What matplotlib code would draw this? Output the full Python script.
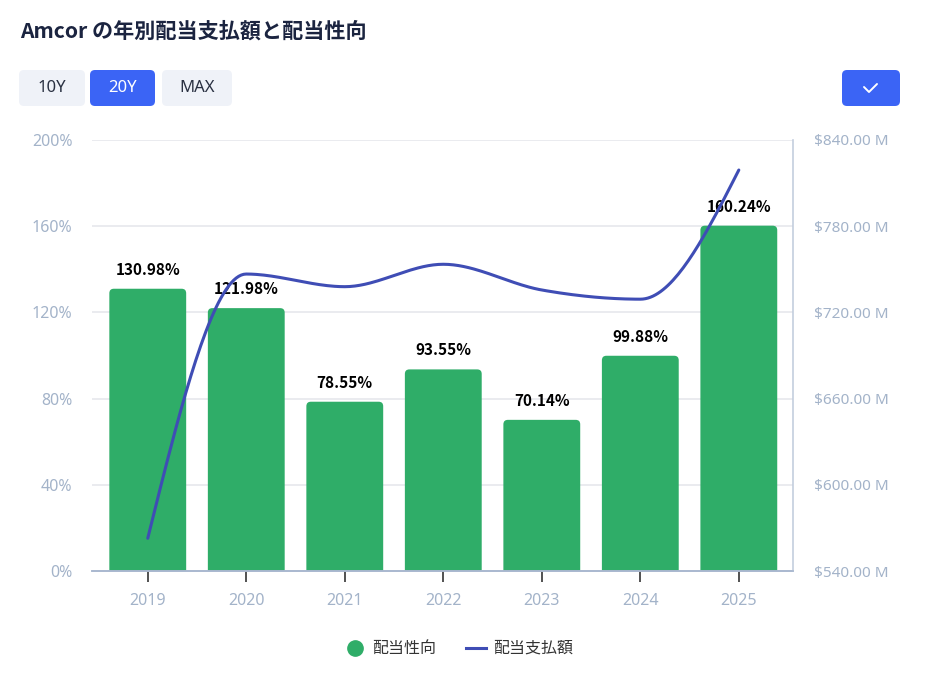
import matplotlib
matplotlib.use('Agg')
import matplotlib.pyplot as plt
from matplotlib.patches import FancyBboxPatch
import numpy as np

plt.rcParams['font.family'] = ['Noto Sans', 'Noto Sans CJK JP', 'DejaVu Sans']

# データ
years = ['2019', '2020', '2021', '2022', '2023', '2024', '2025']
payout_ratio = [130.98, 121.98, 78.55, 93.55, 70.14, 99.88, 160.24]      # 配当性向 (%)
dividends_paid = [562.8, 746.7, 737.9, 753.5, 735.6, 729.2, 819.1]      # 配当支払額 ($M)
left_ticks = [0, 40, 80, 120, 160, 200]
right_ticks = [540, 600, 660, 720, 780, 840]
buttons = ['10Y', '20Y', 'MAX']

GREEN = '#2fad68'
BLUE_LINE = '#3f4db5'
BTN_BLUE = '#3b64f5'
LABEL = '#a3b3c9'
GRID = '#e6e8ec'
CJK = ['Noto Sans CJK JP', 'DejaVu Sans']


def monotone_x(xs, ys, n=40):
    """d3.curveMonotoneX 相当の補間（描画用）"""
    xs = np.asarray(xs, float)
    ys = np.asarray(ys, float)
    h = np.diff(xs)
    s = np.diff(ys) / h
    m = np.zeros_like(ys)
    for i in range(1, len(ys) - 1):
        p = (s[i - 1] * h[i] + s[i] * h[i - 1]) / (h[i - 1] + h[i])
        m[i] = (np.sign(s[i - 1]) + np.sign(s[i])) * min(abs(s[i - 1]), abs(s[i]), 0.5 * abs(p))
    m[0] = (3 * s[0] - m[1]) / 2
    m[-1] = (3 * s[-1] - m[-2]) / 2
    px, py = [], []
    for i in range(len(xs) - 1):
        t = np.linspace(0, 1, n)
        h00 = 2 * t**3 - 3 * t**2 + 1
        h10 = t**3 - 2 * t**2 + t
        h01 = -2 * t**3 + 3 * t**2
        h11 = t**3 - t**2
        px.extend(xs[i] + t * h[i])
        py.extend(h00 * ys[i] + h10 * h[i] * m[i] + h01 * ys[i + 1] + h11 * h[i] * m[i + 1])
    return np.array(px), np.array(py)


W, H = 944, 683
fig = plt.figure(figsize=(W / 100, H / 100), dpi=100)

# プロット領域
x0, x1, yb, yt = 92, 793, 571, 140
ax = fig.add_axes([x0 / W, 1 - yb / H, (x1 - x0) / W, (yb - yt) / H])
ax2 = ax.twinx()

x = np.arange(len(years))
xlim = (-0.566, 6.55)
ax.set_xlim(*xlim)
ax.set_ylim(0, 200)
ax2.set_ylim(540, 840)

for v in left_ticks[1:]:
    ax.axhline(v, color=GRID, lw=1.2, zorder=0)

# 棒（上側の角丸）
px_per_x = (x1 - x0) / (xlim[1] - xlim[0])
px_per_y = (yb - yt) / 200
aspect = px_per_x / px_per_y
bw = 0.78
rad = 4.5 / px_per_x
for xi, v in zip(x, payout_ratio):
    box = FancyBboxPatch((xi - bw / 2, -6), bw, v + 6,
                         boxstyle=f"round,pad=0,rounding_size={rad}",
                         mutation_aspect=aspect,
                         fc=GREEN, ec='none', zorder=2, clip_on=True)
    ax.add_patch(box)
    ax.annotate(f'{v:.2f}%', (xi, v), xytext=(0, 8), textcoords='offset points',
                ha='center', va='bottom', fontsize=11, fontweight='bold',
                color='black', zorder=5, family=CJK)

lx, ly = monotone_x(x, dividends_paid)
ax2.plot(lx, ly, color=BLUE_LINE, lw=2.2, zorder=4, solid_capstyle='round')
ax2.patch.set_visible(False)

# 軸
ax.set_xticks(x)
ax.set_xticklabels(years)
ax.set_yticks(left_ticks)
ax.set_yticklabels([f'{v}%' for v in left_ticks])
ax2.set_yticks(right_ticks)
ax2.set_yticklabels([f'${v:.2f} M' for v in right_ticks])

ax.tick_params(axis='x', colors='#333333', length=8, width=1.2, pad=8, labelsize=11.5, labelcolor=LABEL)
ax.tick_params(axis='y', length=0, pad=14, labelsize=11.5, labelcolor=LABEL)
ax2.tick_params(axis='y', length=0, pad=15, labelsize=11, labelcolor=LABEL)

for a in (ax, ax2):
    for sp in ('top', 'left'):
        a.spines[sp].set_visible(False)
    a.spines['bottom'].set_color('#a9b8cf')
    a.spines['bottom'].set_linewidth(1.2)
    a.spines['right'].set_color('#c3cede')
    a.spines['right'].set_linewidth(1.2)
ax.spines['right'].set_visible(False)

# UI オーバーレイ（ピクセル座標）
ui = fig.add_axes([0, 0, 1, 1], zorder=10)
ui.set_xlim(0, W)
ui.set_ylim(H, 0)
ui.axis('off')
ui.patch.set_visible(False)

ui.text(20, 31, 'Amcor の年別配当支払額と配当性向', fontsize=15.2, fontweight='bold',
        color='#1b2440', va='center', ha='left', family=CJK)

btn_x = [(19, 85), (90, 155), (162, 232)]
for (bx0, bx1), label in zip(btn_x, buttons):
    active = label == '20Y'
    ui.add_patch(FancyBboxPatch((bx0, 70), bx1 - bx0, 36,
                                boxstyle="round,pad=0,rounding_size=5",
                                fc=BTN_BLUE if active else '#eff2f8', ec='none'))
    ui.text((bx0 + bx1) / 2, 88.5, label, ha='center', va='center', fontsize=12,
            color='white' if active else '#2a3142')

ui.add_patch(FancyBboxPatch((842, 70), 58, 36, boxstyle="round,pad=0,rounding_size=5",
                            fc=BTN_BLUE, ec='none'))
ui.plot([864, 869, 877], [87, 92, 84], color='white', lw=1.4, solid_capstyle='round')

# 凡例
ui.plot([355], [648], 'o', ms=11, color=GREEN)
ui.text(372, 648, '配当性向', fontsize=11.5, color='#333333', va='center', family=CJK)
ui.plot([466, 486], [648, 648], color=BLUE_LINE, lw=2.2)
ui.text(493, 648, '配当支払額', fontsize=11.5, color='#333333', va='center', family=CJK)

fig.savefig('out.png', dpi=100, facecolor='white')
